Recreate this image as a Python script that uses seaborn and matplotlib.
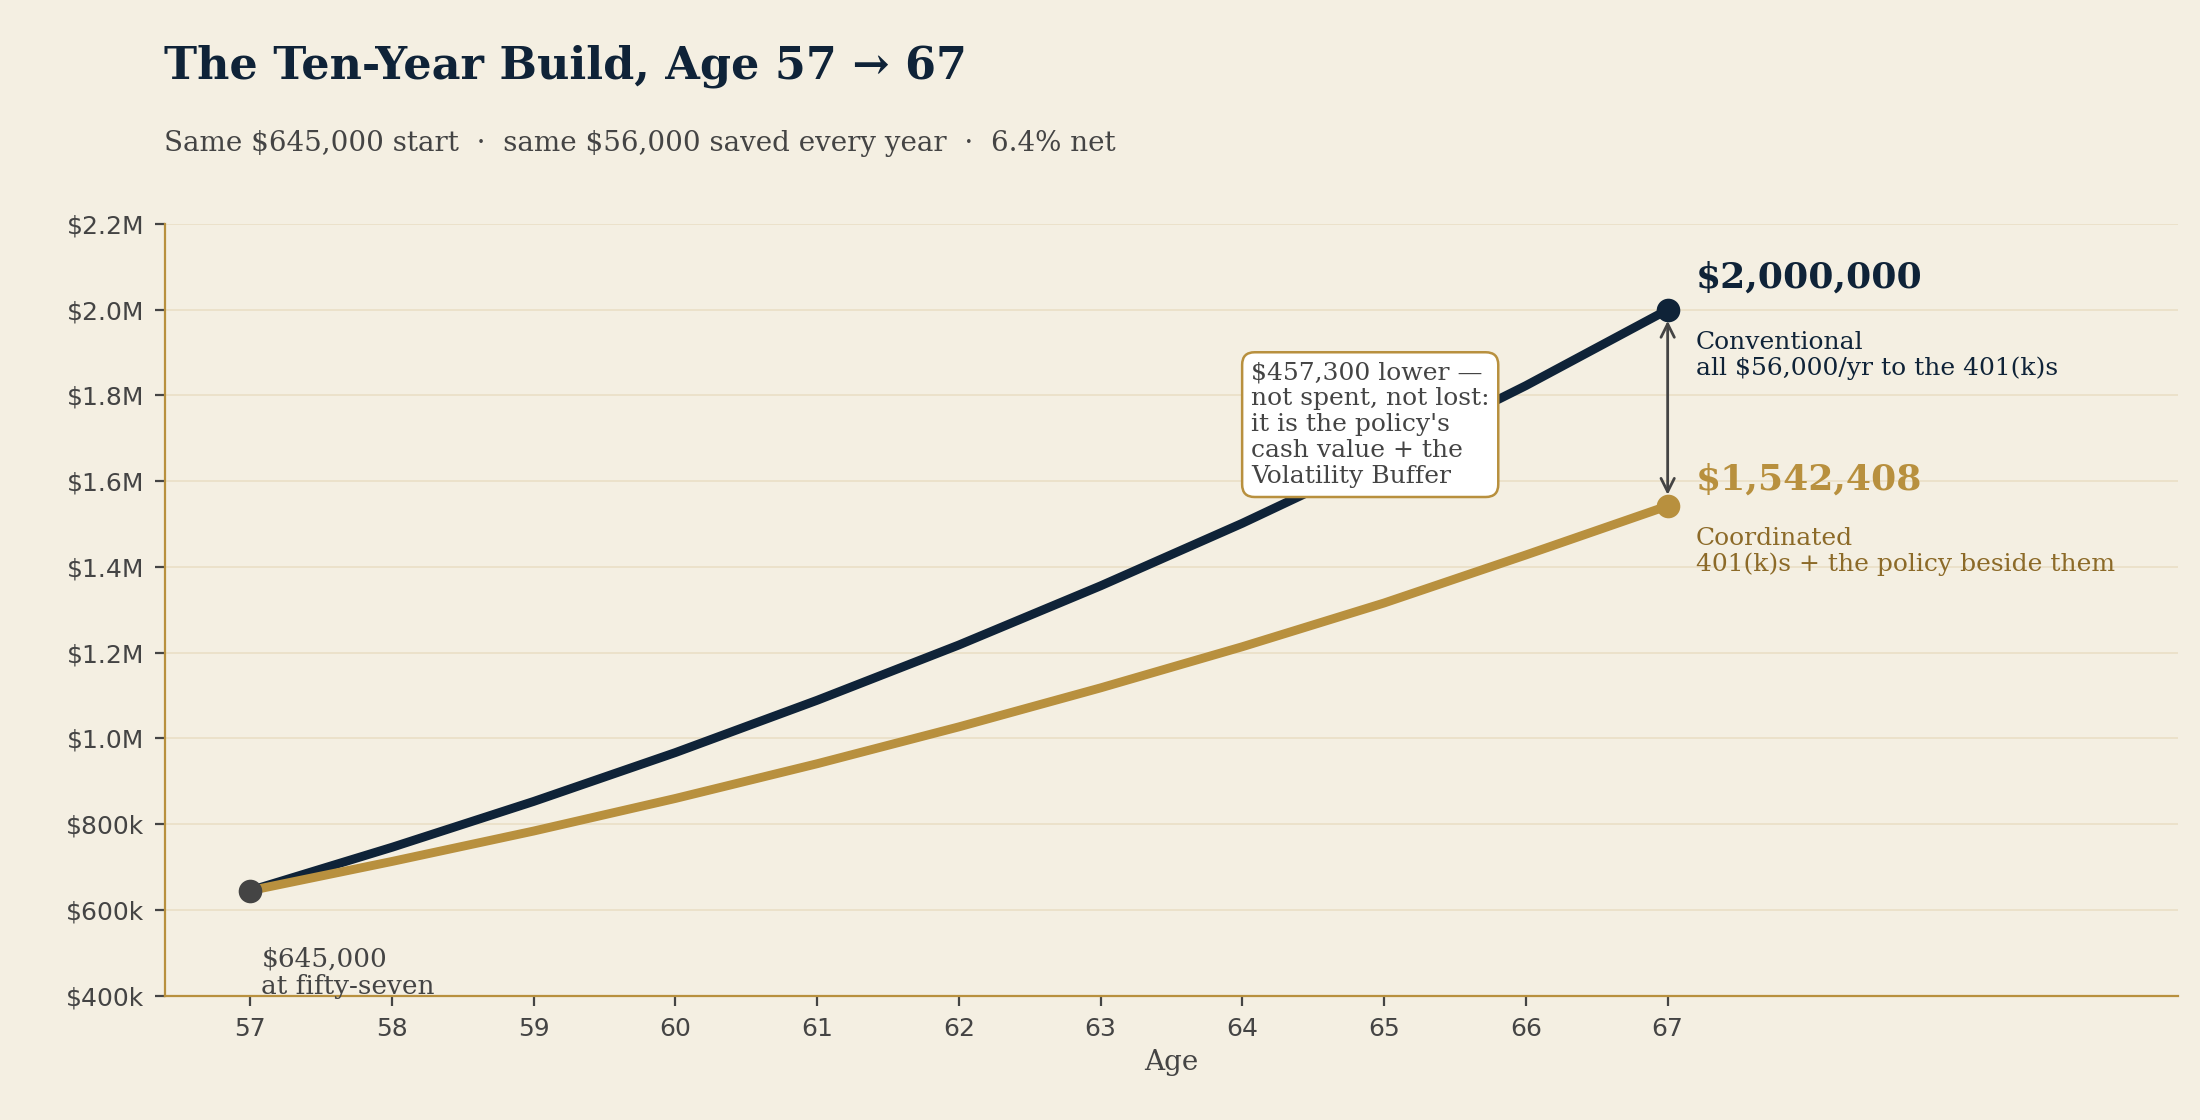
import pandas as pd
import matplotlib.pyplot as plt
import seaborn as sns
from matplotlib.ticker import FuncFormatter

# ==========================================
# Data
# ==========================================
ages = [57, 58, 59, 60, 61, 62, 63, 64, 65, 66, 67]
conventional = [645000, 746000, 853000, 967000, 1089000, 1218000,
                1356000, 1502000, 1658000, 1823000, 2000000]
coordinated = [645000, 713000, 784000, 860000, 941000, 1027000,
               1118000, 1214000, 1316000, 1428000, 1542408]
plan_names = ["Conventional", "Coordinated"]
y_ticks = [400000, 600000, 800000, 1000000, 1200000, 1400000,
           1600000, 1800000, 2000000, 2200000]

# colours
BG = "#f4efe2"
NAVY = "#0f2338"
GOLD = "#b8903e"
GOLD_DARK = "#8c6a28"
GREY = "#444444"
GRID = "#ebe1ca"

# ==========================================
# Style
# ==========================================
sns.set_theme(style="white")
plt.rcParams["font.family"] = ["DejaVu Sans"]
SERIF = ["DejaVu Serif"]

df = pd.DataFrame({
    "Age": ages + ages,
    "Value": conventional + coordinated,
    "Plan": [plan_names[0]] * len(ages) + [plan_names[1]] * len(ages),
})

fig, ax = plt.subplots(figsize=(11, 5.6), dpi=200)
fig.patch.set_facecolor(BG)
ax.set_facecolor(BG)
fig.subplots_adjust(left=0.075, right=0.99, bottom=0.111, top=0.8)

sns.lineplot(
    data=df, x="Age", y="Value", hue="Plan",
    palette={plan_names[0]: NAVY, plan_names[1]: GOLD},
    linewidth=3.2, legend=False, ax=ax, zorder=3,
)

# end / start markers
ax.plot(ages[-1], conventional[-1], "o", color=NAVY, ms=7.5, zorder=5)
ax.plot(ages[-1], coordinated[-1], "o", color=GOLD, ms=7.5, zorder=5)
ax.plot(ages[0], conventional[0], "o", color=GREY, ms=7.5, zorder=6)

# gap arrow
ax.annotate("", xy=(ages[-1], coordinated[-1]), xytext=(ages[-1], conventional[-1]),
            arrowprops=dict(arrowstyle="<->", color=GREY, lw=1.0,
                            shrinkA=4, shrinkB=4), zorder=4)

# axes
ax.set_xlim(56.4, 70.6)
ax.set_ylim(400000, 2200000)
ax.set_xticks(ages)
ax.set_yticks(y_ticks)
ax.yaxis.set_major_formatter(FuncFormatter(
    lambda v, p: f"${v/1e6:.1f}M" if v >= 1e6 else f"${v/1e3:.0f}k"))
ax.tick_params(axis="both", colors=GREY, labelcolor=GREY, labelsize=9,
               length=3.5, width=0.8, pad=4, left=True, bottom=True)
ax.yaxis.grid(True, color=GRID, lw=0.7)
ax.xaxis.grid(False)
ax.set_axisbelow(True)
for side in ["top", "right"]:
    ax.spines[side].set_visible(False)
for side in ["left", "bottom"]:
    ax.spines[side].set_color(GOLD)
    ax.spines[side].set_linewidth(0.8)
ax.set_ylabel("")
ax.set_xlabel("Age", family=SERIF, fontsize=10, color=GREY, labelpad=3)

# ==========================================
# Labels
# ==========================================
ax.text(67.2, 2051000, r"\$2,000,000", family=SERIF, fontsize=13,
        fontweight="bold", color=NAVY, ha="left", va="baseline")
ax.text(67.2, 1950000, "Conventional\nall \\$56,000/yr to the 401(k)s",
        family=SERIF, fontsize=9, color=NAVY, ha="left", va="top",
        linespacing=1.15)
ax.text(67.2, 1580000, r"\$1,542,408", family=SERIF, fontsize=13,
        fontweight="bold", color=GOLD, ha="left", va="baseline")
ax.text(67.2, 1493000, "Coordinated\n401(k)s + the policy beside them",
        family=SERIF, fontsize=9, color=GOLD_DARK, ha="left", va="top",
        linespacing=1.15)

ax.text(57.08, 514000, "\\$645,000\nat fifty-seven", family=SERIF, fontsize=9.5,
        color=GREY, ha="left", va="top", linespacing=1.12)

ax.text(64.06, 1732000,
        "\\$457,300 lower —\nnot spent, not lost:\nit is the policy's\ncash value + the\nVolatility Buffer",
        family=SERIF, fontsize=9, color=GREY, ha="left", va="center", zorder=7,
        linespacing=1.17,
        bbox=dict(boxstyle="round,pad=0.35,rounding_size=0.5", fc="white",
                  ec=GOLD, lw=0.9))

# title + subtitle
fig.text(0.0745, 0.9295, "The Ten-Year Build, Age 57 → 67", family=SERIF,
         fontsize=16, fontweight="bold", color=NAVY, ha="left", va="baseline")
fig.text(0.0745, 0.865,
         "Same \\$645,000 start  ·  same \\$56,000 saved every year  ·  6.4% net",
         family=SERIF, fontsize=10, color=GREY, ha="left", va="baseline")

fig.savefig("out.png", dpi=200, facecolor=BG)
